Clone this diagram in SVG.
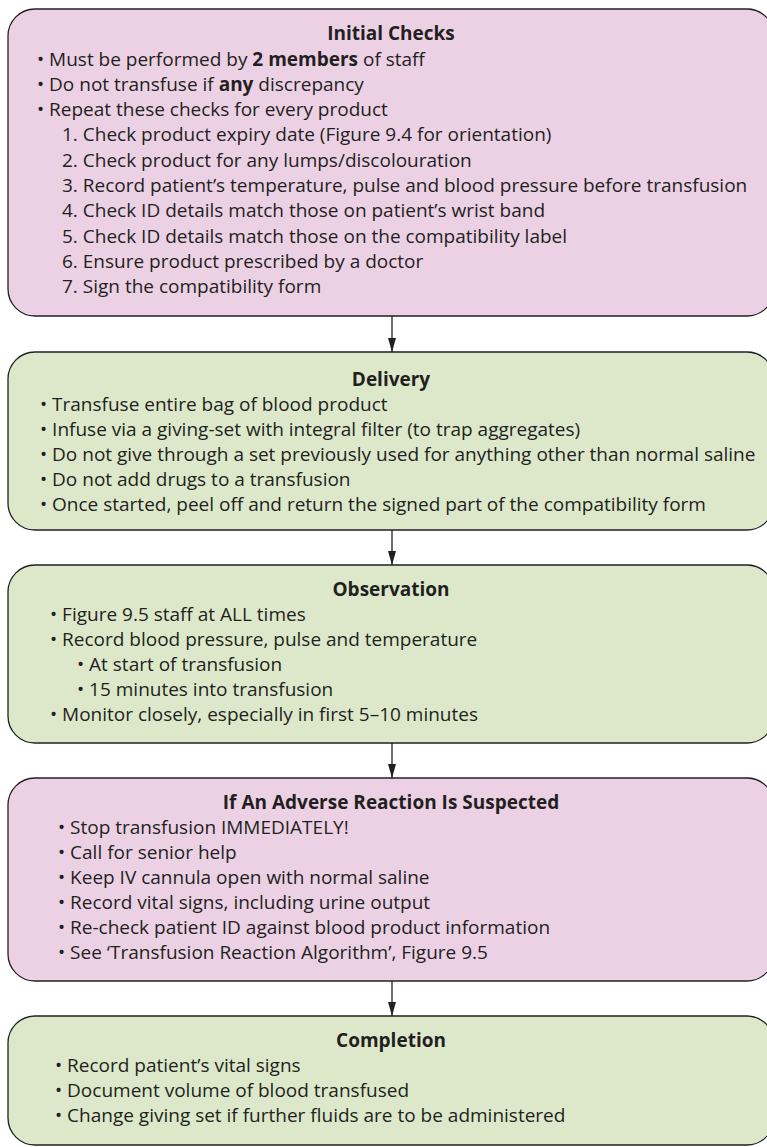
<svg xmlns="http://www.w3.org/2000/svg" width="767" height="1147" viewBox="0 0 767 1147">
  <style>
    .box { stroke: #231f20; stroke-width: 1.3; }
    .pink { fill: #ecd1e5; }
    .green { fill: #dde8cb; }
    text { font-family: "Open Sans", "Noto Sans", "Liberation Sans", sans-serif; font-size: 19px; fill: #231f20; }
    .title { font-weight: bold; text-anchor: middle; }
    .b { font-weight: bold; }
    .conn { stroke: #231f20; stroke-width: 1.3; fill: none; }
  </style>
  <defs>
    <!-- slim filled arrowhead, drawn pointing along +x so orient="auto" follows the line -->
    <marker id="arrow" markerWidth="14" markerHeight="8" refX="14" refY="4" orient="auto" markerUnits="userSpaceOnUse" viewBox="0 0 14 8">
      <path d="M0,0 L14,4 L0,8 Z" fill="#231f20"/>
    </marker>
  </defs>

  <g id="initial-checks">
    <rect class="box pink" x="8" y="9" width="766" height="307" rx="27" ry="27"/>
    <text class="title" x="391" y="40">Initial Checks</text>
    <text x="37" y="65.5">• Must be performed by <tspan class="b">2 members</tspan> of staff</text>
    <text x="37" y="90.8">• Do not transfuse if <tspan class="b">any</tspan> discrepancy</text>
    <text x="37" y="116.1">• Repeat these checks for every product</text>
    <text x="62" y="141.4">1. Check product expiry date (Figure 9.4 for orientation)</text>
    <text x="62" y="166.7">2. Check product for any lumps/discolouration</text>
    <text x="62" y="192">3. Record patient’s temperature, pulse and blood pressure before transfusion</text>
    <text x="62" y="217.3">4. Check ID details match those on patient’s wrist band</text>
    <text x="62" y="242.6">5. Check ID details match those on the compatibility label</text>
    <text x="62" y="267.9">6. Ensure product prescribed by a doctor</text>
    <text x="62" y="293.2">7. Sign the compatibility form</text>
  </g>

  <g id="delivery">
    <rect class="box green" x="8" y="352" width="766" height="178" rx="27" ry="27"/>
    <text class="title" x="391" y="386">Delivery</text>
    <text x="40" y="411">• Transfuse entire bag of blood product</text>
    <text x="40" y="436">• Infuse via a giving-set with integral filter (to trap aggregates)</text>
    <text x="40" y="461">• Do not give through a set previously used for anything other than normal saline</text>
    <text x="40" y="486">• Do not add drugs to a transfusion</text>
    <text x="40" y="511">• Once started, peel off and return the signed part of the compatibility form</text>
  </g>

  <g id="observation">
    <rect class="box green" x="8" y="565" width="766" height="178" rx="27" ry="27"/>
    <text class="title" x="391" y="596">Observation</text>
    <text x="50" y="621">• Figure 9.5 staff at ALL times</text>
    <text x="50" y="646">• Record blood pressure, pulse and temperature</text>
    <text x="77" y="671">• At start of transfusion</text>
    <text x="77" y="696">• 15 minutes into transfusion</text>
    <text x="50" y="721">• Monitor closely, especially in first 5–10 minutes</text>
  </g>

  <g id="adverse-reaction">
    <rect class="box pink" x="8" y="778" width="766" height="203" rx="27" ry="27"/>
    <text class="title" x="391" y="809">If An Adverse Reaction Is Suspected</text>
    <text x="58" y="834">• Stop transfusion IMMEDIATELY!</text>
    <text x="58" y="859">• Call for senior help</text>
    <text x="58" y="884">• Keep IV cannula open with normal saline</text>
    <text x="58" y="909">• Record vital signs, including urine output</text>
    <text x="58" y="934">• Re-check patient ID against blood product information</text>
    <text x="58" y="959">• See ‘Transfusion Reaction Algorithm’, Figure 9.5</text>
  </g>

  <g id="completion">
    <rect class="box green" x="8" y="1016" width="766" height="129" rx="27" ry="27"/>
    <text class="title" x="391" y="1047">Completion</text>
    <text x="55" y="1072">• Record patient’s vital signs</text>
    <text x="55" y="1097">• Document volume of blood transfused</text>
    <text x="55" y="1122">• Change giving set if further fluids are to be administered</text>
  </g>

  <g id="connectors">
    <line class="conn" x1="392" y1="316" x2="392" y2="352" marker-end="url(#arrow)"/>
    <line class="conn" x1="392" y1="530" x2="392" y2="565" marker-end="url(#arrow)"/>
    <line class="conn" x1="392" y1="743" x2="392" y2="778" marker-end="url(#arrow)"/>
    <line class="conn" x1="392" y1="981" x2="392" y2="1016" marker-end="url(#arrow)"/>
  </g>
</svg>
